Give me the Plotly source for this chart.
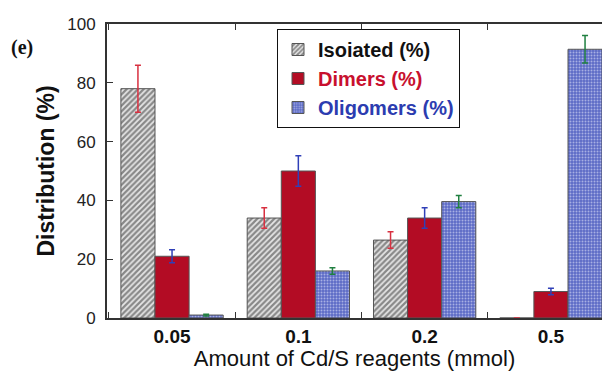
import plotly.graph_objects as go

categories = ["0.05", "0.1", "0.2", "0.5"]
isolated = [78, 34, 26.5, 0]
isolated_err = [8, 3.5, 2.8, None]
dimers = [21, 50, 34, 9]
dimers_err = [2.2, 5.2, 3.5, 1.1]
oligomers = [1, 16, 39.6, 91.4]
oligomers_err = [0.3, 1.1, 2.1, 4.7]

OFF = 8  # page body margin
W, H = 610 - 2 * OFF, 379 - 2 * OFF
L, T = 107 - OFF, 24 - OFF
B = H - (318 - OFF - 0)
PW = W - L
PH = H - T - B


def px(xa):  # absolute page x -> paper
    return (xa - OFF - L) / PW


def py(ya):  # absolute page y -> paper
    return (T + PH - (ya - OFF)) / PH


# x range chosen so that ~126 px per category matches the reference
XR = [-0.515, -0.515 + PW / 126.3]

fig = go.Figure()
fig.add_trace(go.Bar(
    x=categories, y=isolated, name="<b>Isoiated (%)</b>",
    marker=dict(color="#bbbbbb", line=dict(color="#555", width=1),
                pattern=dict(shape="/", fgcolor="#2a2a2a", bgcolor="#e6e6e6", size=4, solidity=0.55)),
    error_y=dict(type="data", array=isolated_err, color="#d83040", thickness=1.5, width=3),
))
fig.add_trace(go.Bar(
    x=categories, y=dimers, name="<b><span style='color:#c8102e'>Dimers (%)</span></b>",
    marker=dict(color="#b30c24", line=dict(color="#555", width=1)),
    error_y=dict(type="data", array=dimers_err, color="#3040b8", thickness=1.5, width=3),
))
fig.add_trace(go.Bar(
    x=categories, y=oligomers, name="<b><span style='color:#2c3cb0'>Oligomers (%)</span></b>",
    marker=dict(color="#8a94d4", line=dict(color="#555", width=1),
                pattern=dict(shape=".", fgcolor="#f4f5ff", bgcolor="#5c6ac6", size=3, solidity=0.35)),
    error_y=dict(type="data", array=oligomers_err, color="#208040", thickness=1.5, width=3),
))

# legend drop shadow
fig.add_shape(type="rect", xref="paper", yref="paper",
              x0=px(281), x1=px(459), y0=py(124), y1=py(33),
              fillcolor="#111", line=dict(width=0), layer="above")

fig.add_annotation(text="<b>(e)</b>", xref="paper", yref="paper",
                   x=px(22), y=py(48), xanchor="center", yanchor="middle", showarrow=False,
                   font=dict(family="Liberation Serif", size=20, color="#111"))

fig.update_layout(
    width=W, height=H,
    margin=dict(l=L, r=0, t=T, b=B, pad=0),
    paper_bgcolor="white", plot_bgcolor="white",
    barmode="group", bargap=0.19, bargroupgap=0,
    font=dict(family="Liberation Sans, Arial", color="#111"),
    showlegend=True,
    legend=dict(x=px(277), y=py(29), xanchor="left", yanchor="top",
                bgcolor="white", bordercolor="#111", borderwidth=1,
                font=dict(size=20, color="#111"), tracegroupgap=0),
    xaxis=dict(type="category", range=XR, tickson="boundaries",
               ticks="inside", ticklen=6, tickcolor="#333",
               showline=True, linecolor="#333", linewidth=2, mirror="ticks",
               tickfont=dict(size=19, color="#111", family="Liberation Sans"),
               tickprefix="<b>", ticksuffix="</b>",
               title=dict(text="Amount of Cd/S reagents (mmol)", font=dict(size=22, color="#111"), standoff=2),
               showgrid=False),
    yaxis=dict(range=[0, 100], dtick=20, ticks="inside", ticklen=6, tickcolor="#333",
               showline=True, linecolor="#333", linewidth=2, mirror=False,
               tickfont=dict(size=17, color="#222"), ticklabelstandoff=6,
               title=dict(text="<b>Distribution (%)</b>", font=dict(size=23, color="#111"), standoff=6),
               showgrid=False, zeroline=False),
)

fig.write_html("out.html")
